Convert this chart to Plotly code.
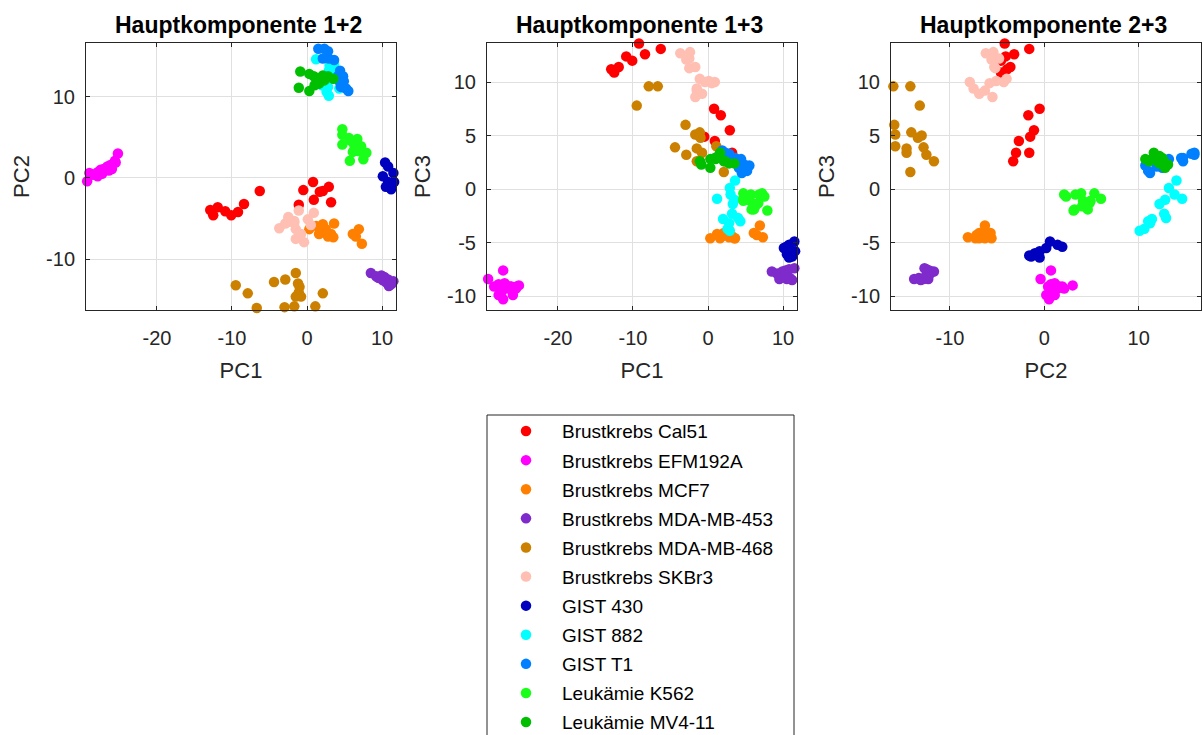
import plotly.graph_objects as go

# ---------------- data (PC1, PC2, PC3 scores per cell line) ----------------
GROUP_NAMES = ["Brustkrebs Cal51", "Brustkrebs EFM192A", "Brustkrebs MCF7",
               "Brustkrebs MDA-MB-453", "Brustkrebs MDA-MB-468", "Brustkrebs SKBr3",
               "GIST 430", "GIST 882", "GIST T1", "Leukämie K562", "Leukämie MV4-11"]
GROUP_COLORS = ["#FF0000", "#FF00FF", "#FF8000", "#7F2BCC", "#CC8000", "#FFBFB3",
                "#0000BF", "#00FFFF", "#0080FF", "#1AFF1A", "#00BF00"]

CAL51_PC1 = [-12.9, -12.5, -11.9, -10.9, -10.1, -9.2, -8.4, -6.3, 0.8, 1.7, 2.9, 0.9, -0.5, 3.2, 2.1, -1.1]
CAL51_PC2 = [-3.95, -4.6, -3.6, -4.1, -4.6, -4.2, -3.2, -1.6, -0.5, -1.7, -1.1, -2.7, -1.5, -3.0, -1.6, -3.3]
CAL51_PC3 = [11.2, 10.9, 11.4, 12.4, 12.0, 13.6, 12.6, 13.1, 7.5, 6.9, 5.5, 4.5, 4.9, 3.4, 3.4, 2.6]

EFM_PC1 = [-29.3, -29.0, -28.5, -27.9, -27.3, -27.5, -27.3, -27.9, -27.1, -26.6, -26.4, -26.0, -26.2, -25.6, -25.5, -25.2]
EFM_PC2 = [-0.4, 0.6, 0.4, 0.7, 0.7, 1.0, 0.5, 0.2, 1.1, 1.4, 0.9, 1.1, 1.6, 2.1, 1.9, 3.0]
EFM_PC3 = [-8.4, -11.5, -9.1, -8.9, -7.6, -9.6, -10.3, -9.9, -8.8, -9.3, -9.1, -9.9, -9.1, -9.3, -9.1, -9.0]

MCF7_PC1 = [0.3, 1.2, 1.9, 2.1, 2.5, 3.2, 3.6, 3.5, 2.8, 1.6, 6.1, 6.9, 6.5, 7.3]
MCF7_PC2 = [-6.3, -5.9, -6.7, -5.7, -6.3, -6.9, -5.6, -7.3, -7.2, -6.9, -6.9, -6.3, -7.2, -8.1]
MCF7_PC3 = [-4.6, -4.2, -4.4, -4.1, -4.2, -4.4, -4.6, -4.6, -4.5, -4.6, -4.1, -3.4, -4.3, -4.5]

MDA453_PC1 = [8.5, 9.2, 9.9, 10.3, 10.8, 11.5, 11.9, 11.2, 10.5, 10.1, 9.5, 10.9]
MDA453_PC2 = [-11.7, -12.1, -12.0, -12.2, -12.5, -12.7, -13.8, -13.1, -12.8, -12.6, -12.3, -13.3]
MDA453_PC3 = [-7.7, -7.9, -7.7, -7.6, -7.5, -7.4, -8.4, -8.5, -8.4, -8.2, -8.4, -8.3]

MDA468_PC1 = [-9.5, -7.9, -6.7, -4.4, -2.9, -1.5, -1.2, -1.1, -0.8, -1.5, -3.0, -1.7, 1.1, 2.1, -1.0]
MDA468_PC2 = [-13.2, -14.2, -16.0, -12.8, -12.5, -11.7, -13.0, -14.1, -14.6, -14.6, -15.9, -15.8, -15.8, -14.2, -13.4]
MDA468_PC3 = [7.8, 9.6, 9.6, 3.9, 3.2, 2.6, 5.0, 5.3, 3.4, 3.8, 6.0, 5.1, 4.0, 1.6, 4.8]

SKBR3_PC1 = [-3.7, -2.5, -2.4, -2.9, -1.7, -2.5, -1.1, 0.9, 0.1, -0.4, 0.5, -1.5, -0.8, -1.7, -1.5]
SKBR3_PC2 = [-6.2, -4.8, -5.4, -5.6, -5.3, -5.2, -4.0, -4.3, -5.1, -7.9, -5.8, -7.5, -6.9, -5.5, -6.3]
SKBR3_PC3 = [12.7, 12.2, 12.8, 12.1, 11.4, 11.3, 10.3, 10.0, 10.1, 10.0, 9.9, 9.4, 8.9, 8.6, 9.2]

GIST430_PC1 = [10.4, 10.8, 11.5, 10.1, 10.8, 10.5, 11.2, 11.9, 12.0, 11.6]
GIST430_PC2 = [1.9, 1.4, 0.6, 0.2, -0.5, -1.1, -1.4, -1.0, -1.6, -0.5]
GIST430_PC3 = [-5.4, -5.2, -4.9, -5.5, -6.4, -6.1, -6.3, -6.0, -6.2, -5.8]

GIST882_PC1 = [1.2, 3.6, 2.9, 3.0, 3.3, 3.2, 4.0, 4.3, 2.0, 2.6, 2.9, 2.8, 3.5]
GIST882_PC2 = [14.6, 14.0, 13.2, 13.8, 12.2, 12.7, 12.9, 11.0, 11.4, 10.6, 10.1, 11.2, 12.8]
GIST882_PC3 = [-0.9, 0.8, 0.1, -0.5, -1.4, -2.3, -2.7, -3.0, -2.8, -3.7, -3.9, -3.2, -1.0]

GISTT1_PC1 = [1.9, 2.3, 1.5, 2.8, 2.1, 2.9, 3.6, 4.4, 4.8, 4.9, 5.5, 4.3, 4.1, 4.5, 5.2]
GISTT1_PC2 = [16.8, 15.9, 15.9, 15.6, 14.7, 14.7, 14.5, 13.2, 12.5, 11.9, 10.7, 11.9, 12.5, 11.2, 11.0]
GISTT1_PC3 = [3.6, 3.4, 3.2, 3.3, 2.9, 2.6, 2.9, 2.8, 2.3, 2.1, 2.2, 2.4, 2.0, 1.5, 1.7]

K562_PC1 = [4.7, 4.7, 4.7, 5.6, 6.7, 6.3, 6.1, 7.9, 7.5, 5.7, 6.8, 7.2, 5.8]
K562_PC2 = [6.0, 5.3, 4.1, 4.9, 4.8, 4.0, 3.2, 3.1, 2.3, 2.1, 3.3, 3.9, 4.6]
K562_PC3 = [-0.9, -0.4, -1.1, -1.1, -1.3, -1.6, -1.9, -2.0, -0.7, -0.5, -0.5, -0.4, -1.9]

MV411_PC1 = [-0.9, 0.3, 0.9, 1.5, 2.1, 2.8, 3.5, 1.6, -1.1, 0.3, 2.3, 1.0]
MV411_PC2 = [13.1, 12.8, 12.5, 12.2, 12.6, 12.5, 12.2, 11.6, 11.1, 10.7, 12.0, 11.4]
MV411_PC3 = [2.3, 2.0, 2.9, 3.1, 2.6, 2.4, 2.4, 3.4, 2.6, 2.8, 2.6, 2.8]

PC1_LIST = [CAL51_PC1, EFM_PC1, MCF7_PC1, MDA453_PC1, MDA468_PC1, SKBR3_PC1,
            GIST430_PC1, GIST882_PC1, GISTT1_PC1, K562_PC1, MV411_PC1]
PC2_LIST = [CAL51_PC2, EFM_PC2, MCF7_PC2, MDA453_PC2, MDA468_PC2, SKBR3_PC2,
            GIST430_PC2, GIST882_PC2, GISTT1_PC2, K562_PC2, MV411_PC2]
PC3_LIST = [CAL51_PC3, EFM_PC3, MCF7_PC3, MDA453_PC3, MDA468_PC3, SKBR3_PC3,
            GIST430_PC3, GIST882_PC3, GISTT1_PC3, K562_PC3, MV411_PC3]

PANEL_TITLES = ["Hauptkomponente 1+2", "Hauptkomponente 1+3", "Hauptkomponente 2+3"]
PC1_TICKS = [-20, -10, 0, 10]
PC2_TICKS = [-10, 0, 10]
PC3_TICKS = [-10, -5, 0, 5, 10]
PC1_RANGE = [-29.45, 11.85]
PC2_RANGE = [-16.25, 16.6]
PC3_RANGE = [-11.3, 13.65]

# ---------------- figure ----------------
W, H = 1203, 735
FONT = "Liberation Sans, Arial, Helvetica, sans-serif"
TXT = "#262626"

fig = go.Figure()

panels = [
    ("x", "y", PC1_LIST, PC2_LIST),
    ("x2", "y2", PC1_LIST, PC3_LIST),
    ("x3", "y3", PC2_LIST, PC3_LIST),
]
for p, (xa, ya, xs, ys) in enumerate(panels):
    for g, name in enumerate(GROUP_NAMES):
        fig.add_trace(go.Scatter(
            x=xs[g], y=ys[g], mode="markers", name=name,
            marker=dict(size=10.5, color=GROUP_COLORS[g], line=dict(width=0)),
            xaxis=xa, yaxis=ya, legendgroup=name, showlegend=(p == 0),
            cliponaxis=False, hoverinfo="skip"))

# axis geometry in pixels (left, right) and (top, bottom)
x_px = [(86, 396), (487, 797), (891, 1201)]
y_px = (43, 310)
ydom = [1 - y_px[1] / H, 1 - y_px[0] / H]


def tick_txt(vals):
    return [str(v) for v in vals]


def ax_common():
    return dict(showline=True, linecolor=TXT, linewidth=1, mirror="ticks",
                ticks="inside", ticklen=4, tickcolor=TXT, tickwidth=1,
                showgrid=True, gridcolor="#E0E0E0", gridwidth=1, zeroline=False,
                automargin=False,
                tickfont=dict(family=FONT, size=20, color=TXT),
                title_font=dict(family=FONT, size=22, color=TXT))


xspecs = [("PC1", PC1_RANGE, PC1_TICKS), ("PC1", PC1_RANGE, PC1_TICKS), ("PC2", PC2_RANGE, PC2_TICKS)]
yspecs = [("PC2", PC2_RANGE, PC2_TICKS), ("PC3", PC3_RANGE, PC3_TICKS), ("PC3", PC3_RANGE, PC3_TICKS)]
for i in range(3):
    sx = "" if i == 0 else str(i + 1)
    xl, xr, xt = xspecs[i]
    yl, yr, yt = yspecs[i]
    fig.layout["xaxis" + sx] = dict(
        domain=[x_px[i][0] / W, x_px[i][1] / W], anchor="y" + sx, range=xr,
        tickmode="array", tickvals=xt, ticktext=tick_txt(xt),
        title=dict(text=xl, standoff=14), ticklabelstandoff=10, **ax_common())
    fig.layout["yaxis" + sx] = dict(
        domain=ydom, anchor="x" + sx, range=yr,
        tickmode="array", tickvals=yt, ticktext=tick_txt(yt),
        title=dict(text=yl, standoff=10), ticklabelstandoff=6, **ax_common())
    fig.add_annotation(
        text=PANEL_TITLES[i], xref="paper", yref="paper",
        x=((x_px[i][0] + x_px[i][1]) / 2 - 3) / W, y=1 - 25 / H,
        xanchor="center", yanchor="middle", showarrow=False,
        font=dict(family=FONT, size=23, color="#000000", weight="bold"))

# legend box outline
fig.add_shape(type="rect", xref="paper", yref="paper",
              x0=487 / W, x1=794 / W, y0=1 - 760 / H, y1=1 - 415 / H,
              line=dict(color=TXT, width=1), fillcolor="rgba(0,0,0,0)", layer="above")

fig.update_layout(
    width=W, height=H, margin=dict(l=0, r=0, t=0, b=0, autoexpand=False),
    paper_bgcolor="white", plot_bgcolor="white",
    font=dict(family=FONT, color=TXT),
    legend=dict(x=490 / W, y=1 - 412.2 / H, xanchor="left", yanchor="top",
                bgcolor="rgba(0,0,0,0)", borderwidth=0,
                font=dict(family=FONT, size=19, color="#000000"),
                itemwidth=62, traceorder="grouped", tracegroupgap=1.4),
    showlegend=True,
)

fig.write_html("out.html")
